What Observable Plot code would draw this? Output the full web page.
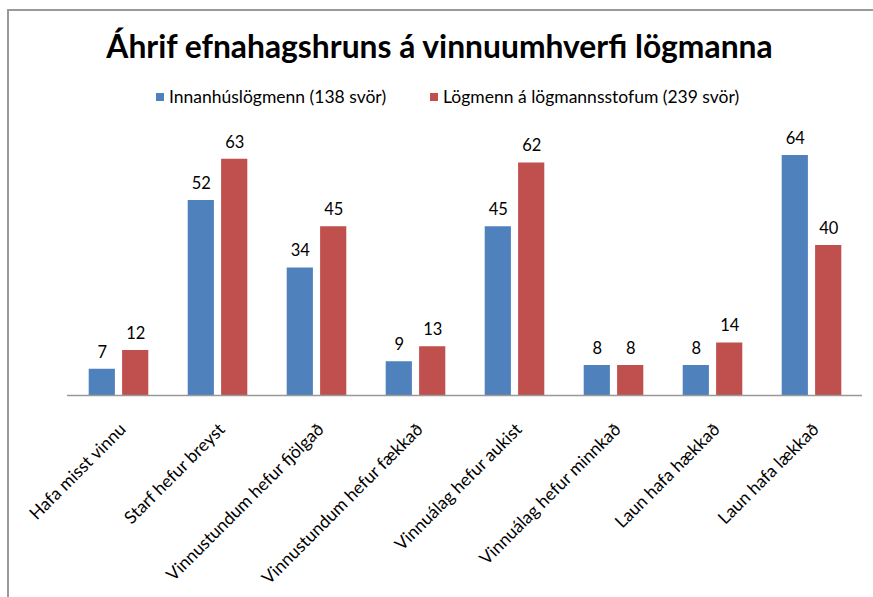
<!DOCTYPE html>
<html><head><meta charset="utf-8">
<script src="https://cdn.jsdelivr.net/npm/d3@7"></script>
<script src="https://cdn.jsdelivr.net/npm/@observablehq/plot@0.6"></script>
<style>
body{margin:0;background:#fff;}
#wrap{position:relative;width:873px;height:597px;overflow:hidden;font-family:Lato,"Open Sans",sans-serif;color:#000;}
#chart{position:absolute;left:0;top:0;}
#frame{position:absolute;left:7px;top:9px;width:900px;height:700px;border-left:2px solid #9a9a9a;border-top:2px solid #9a9a9a;}
#title{position:absolute;top:26px;left:3px;width:873px;text-align:center;font-weight:bold;font-size:31.8px;line-height:40px;}
.leg{position:absolute;top:86px;font-size:17.5px;line-height:22px;white-space:nowrap;}
.leg span{display:inline-block;width:8px;height:8px;margin-right:5px;vertical-align:2px;}
</style>
</head><body>
<div id="wrap">
  <div id="chart"></div>
  <div id="frame"></div>
  <div id="title"></div>
  <div class="leg" id="leg0" style="left:156px"></div>
  <div class="leg" id="leg1" style="left:430px"></div>
</div>
<script>
const title = "Áhrif efnahagshruns á vinnuumhverfi lögmanna";
const categories = ["Hafa misst vinnu","Starf hefur breyst","Vinnustundum hefur fjölgað","Vinnustundum hefur fækkað","Vinnuálag hefur aukist","Vinnuálag hefur minnkað","Laun hafa hækkað","Laun hafa lækkað"];
const seriesNames = ["Innanhúslögmenn (138 svör)","Lögmenn á lögmannsstofum (239 svör)"];
const innanhus = [7,52,34,9,45,8,8,64];
const stofur = [12,63,45,13,62,8,14,40];
const colors = ["#4F81BD","#C0504D"];

document.getElementById("title").textContent = title;
seriesNames.forEach((s,i)=>{
  const el = document.getElementById("leg"+i);
  const sw = document.createElement("span");
  sw.style.background = colors[i];
  el.appendChild(sw);
  el.appendChild(document.createTextNode(s));
});

const data = categories.map((c,i)=>({c, a: innanhus[i], b: stofur[i]}));

const chart = Plot.plot({
  width: 873, height: 597,
  marginLeft: 67, marginRight: 11, marginTop: 132.5, marginBottom: 202,
  style: {fontFamily: "Lato, 'Open Sans', sans-serif", fontSize: "16.5px", background: "transparent", color: "#000"},
  x: {domain: categories, padding: 0, label: null, axis: null},
  y: {domain: [0, 70], axis: null},
  marks: [
    Plot.barY(data, {x: "c", y: "a", fill: colors[0], insetLeft: 19.7, insetRight: 53.1}),
    Plot.barY(data, {x: "c", y: "b", fill: colors[1], insetLeft: 53.1, insetRight: 19.7}),
    Plot.text(data, {x: "c", y: "a", text: "a", dx: -16.7, dy: -17, fontSize: 16.5, fill: "#000"}),
    Plot.text(data, {x: "c", y: "b", text: "b", dx: 16.7, dy: -17, fontSize: 16.5, fill: "#000"}),
    Plot.ruleY([0], {stroke: "#999", strokeWidth: 1.5}),
    Plot.text(categories, {x: d => d, y: 0, text: d => d, rotate: -45, textAnchor: "end", dx: 4, dy: 31, fontSize: 17.5, fill: "#000"})
  ]
});
document.getElementById("chart").appendChild(chart);
</script>
</body></html>
